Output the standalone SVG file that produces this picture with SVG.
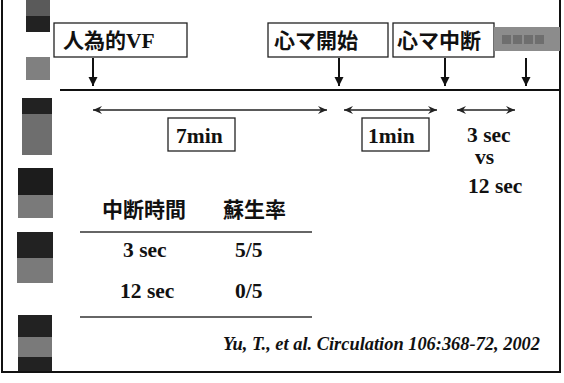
<svg xmlns="http://www.w3.org/2000/svg" width="564" height="383" viewBox="0 0 564 383">
  <style>
    .lbl { font-family: "Liberation Serif", serif; font-weight: bold; font-size: 21.5px; fill: #111; }
    .cjk { font-family: "Noto Sans CJK JP", "Noto Sans CJK SC", sans-serif; font-weight: bold; font-size: 21px; fill: #111; }
    .box { fill: #fff; stroke: #222; stroke-width: 1.3; }
    .frame { stroke: #111; stroke-width: 2; fill: none; }
    .down { stroke: #111; stroke-width: 2; fill: none; marker-end: url(#head); }
    .dbl { stroke: #222; stroke-width: 1.5; fill: none; marker-start: url(#chev); marker-end: url(#chev); }
    .rule { stroke: #333; stroke-width: 1.5; }
    .cite { font-family: "Liberation Serif", serif; font-weight: bold; font-style: italic; font-size: 18.4px; fill: #111; }
  </style>
  <defs>
    <marker id="head" markerUnits="userSpaceOnUse" markerWidth="10" markerHeight="10" refX="9" refY="5" orient="auto">
      <path d="M0,0.5 L9,5 L0,9.5 z" fill="#111"/>
    </marker>
    <marker id="chev" markerUnits="userSpaceOnUse" markerWidth="10" markerHeight="10" refX="9" refY="5" orient="auto-start-reverse">
      <path d="M0,1 L9,5 L0,9 L3,5 z" fill="#222"/>
    </marker>
  </defs>
  <rect width="564" height="383" fill="#fff"/>

  <!-- decorative left stripe -->
  <g id="stripe">
    <rect x="26" y="0" width="24" height="16" fill="#5a5a5a"/>
    <rect x="26" y="16" width="24" height="16" fill="#222"/>
    <rect x="26" y="57" width="24" height="23" fill="#808080"/>
    <rect x="22" y="98" width="30" height="16" fill="#222"/>
    <rect x="22" y="114" width="30" height="41" fill="#6e6e6e"/>
    <rect x="18" y="168" width="35" height="27" fill="#1c1c1c"/>
    <rect x="18" y="195" width="35" height="23" fill="#7a7a7a"/>
    <rect x="17" y="232" width="36" height="26" fill="#222"/>
    <rect x="17" y="258" width="36" height="25" fill="#7a7a7a"/>
    <rect x="18" y="315" width="34" height="22" fill="#222"/>
    <rect x="18" y="337" width="34" height="20" fill="#7a7a7a"/>
    <rect x="18" y="357" width="34" height="15" fill="#222"/>
  </g>

  <!-- frame -->
  <g id="frame">
    <line class="frame" x1="2" y1="0" x2="2" y2="373"/>
    <line class="frame" x1="560" y1="0" x2="560" y2="373"/>
    <line class="frame" x1="1" y1="372" x2="561" y2="372"/>
  </g>

  <!-- top event nodes -->
  <g id="vf">
    <rect class="box" x="54" y="23" width="133" height="34"/>
    <text x="63" y="48"><tspan class="cjk">人為的</tspan><tspan class="lbl">VF</tspan></text>
  </g>
  <g id="cpr-start">
    <rect class="box" x="268" y="23" width="120" height="34"/>
    <text class="cjk" x="274" y="48">心マ開始</text>
  </g>
  <g id="cpr-stop">
    <rect class="box" x="393" y="23" width="101" height="34"/>
    <text class="cjk" x="397" y="48">心マ中断</text>
  </g>
  <g id="gray-label">
    <rect x="494" y="27" width="66" height="24" fill="#8c8c8c"/>
    <rect x="502" y="35" width="9" height="9" fill="#6e6e6e"/>
    <rect x="513" y="35" width="9" height="9" fill="#6e6e6e"/>
    <rect x="524" y="35" width="9" height="9" fill="#6e6e6e"/>
    <rect x="535" y="35" width="9" height="9" fill="#6e6e6e"/>
  </g>

  <!-- timeline -->
  <g id="timeline">
    <line x1="60" y1="90" x2="560" y2="90" stroke="#111" stroke-width="2.2"/>
  </g>

  <!-- connectors -->
  <g id="connectors">
    <line class="down" x1="93" y1="58" x2="93" y2="86"/>
    <line class="down" x1="339" y1="58" x2="339" y2="86"/>
    <line class="down" x1="445" y1="58" x2="445" y2="86"/>
    <line class="down" x1="526" y1="58" x2="526" y2="86"/>
    <line class="dbl" x1="93" y1="110" x2="327" y2="110"/>
    <line class="dbl" x1="344" y1="110" x2="437" y2="110"/>
    <line class="dbl" x1="457" y1="110" x2="515" y2="110"/>
  </g>

  <!-- duration labels -->
  <g id="d7min">
    <rect class="box" x="168" y="118" width="67" height="33"/>
    <text class="lbl" x="176" y="143">7min</text>
  </g>
  <g id="d1min">
    <rect class="box" x="362" y="118" width="67" height="33"/>
    <text class="lbl" x="368" y="143">1min</text>
  </g>
  <g id="dsec">
    <text class="lbl" x="467" y="142">3 sec</text>
    <text class="lbl" x="475" y="164">vs</text>
    <text class="lbl" x="468" y="193">12 sec</text>
  </g>

  <!-- table -->
  <g id="table">
    <text class="cjk" x="102" y="217">中断時間</text>
    <text class="cjk" x="223" y="217">蘇生率</text>
    <line class="rule" x1="80" y1="232" x2="312" y2="232"/>
    <text class="lbl" x="123" y="257">3 sec</text>
    <text class="lbl" x="235" y="257">5/5</text>
    <text class="lbl" x="120" y="298">12 sec</text>
    <text class="lbl" x="235" y="298">0/5</text>
    <line class="rule" x1="80" y1="317" x2="312" y2="317"/>
  </g>

  <g id="citation">
    <text class="cite" x="540" y="350" text-anchor="end">Yu, T., et al. Circulation 106:368-72, 2002</text>
  </g>
</svg>
